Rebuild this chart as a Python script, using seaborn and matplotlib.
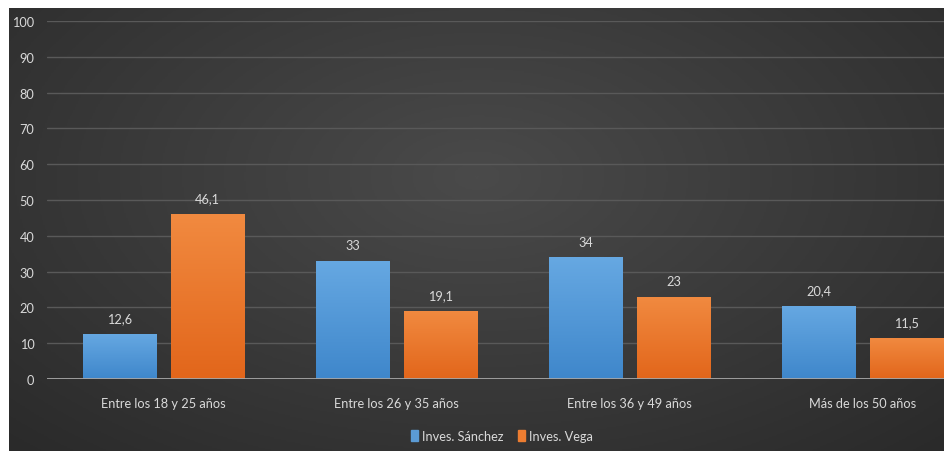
import numpy as np
import pandas as pd
import matplotlib
matplotlib.use("Agg")
import matplotlib.pyplot as plt
import matplotlib.colors as mcolors
from matplotlib.patches import Rectangle
from matplotlib import font_manager
import seaborn as sns

categories = ["Entre los 18 y 25 años", "Entre los 26 y 35 años",
              "Entre los 36 y 49 años", "Más de los 50 años"]
series_names = ["Inves. Sánchez", "Inves. Vega"]
sanchez = [12.6, 33, 34, 20.4]
vega = [46.1, 19.1, 23, 11.5]
yticks = [0, 10, 20, 30, 40, 50, 60, 70, 80, 90, 100]

df = pd.DataFrame({
    "cat": categories * 2,
    "serie": [series_names[0]] * 4 + [series_names[1]] * 4,
    "val": sanchez + vega,
})

sns.set_theme(style="white")
names = {f.name for f in font_manager.fontManager.ttflist}
fam = "Liberation Sans Narrow" if "Liberation Sans Narrow" in names else "Lato"
plt.rcParams["font.family"] = [fam, "DejaVu Sans"]
FS = 10 if fam == "Liberation Sans Narrow" else 9.2

W, H = 945, 452
fig = plt.figure(figsize=(W / 100, H / 100), dpi=100)
fig.patch.set_facecolor("white")

# background panel with radial gradient
bg = fig.add_axes([9 / W, 0, 1 - 9 / W, 1 - 9 / H])
bg.set_axis_off()
yy, xx = np.mgrid[0:1:300j, 0:1:600j]
r = np.sqrt(((xx - 0.5) / 0.75) ** 2 + ((yy - 0.62) / 0.9) ** 2)
img = np.clip(1 - r, 0, 1)
cm = mcolors.LinearSegmentedColormap.from_list("bg", ["#2a2a2a", "#4a4a4a"])
bg.imshow(img, cmap=cm, aspect="auto", extent=[0, 1, 0, 1], origin="lower")
bg.set_xlim(0, 1); bg.set_ylim(0, 1)

left = 47 / W
bottom = 1 - 380 / H
top = 1 - 22 / H
ax = fig.add_axes([left, bottom, 932 / W, top - bottom])
ax.patch.set_alpha(0)

colors = {"Inves. Sánchez": "#5b9bd5", "Inves. Vega": "#ed7d31"}
sns.barplot(data=df, x="cat", y="val", hue="serie", palette=colors,
            width=0.755, gap=0.17, ax=ax, legend=False, zorder=3,
            edgecolor="none", saturation=1)

ax.set_xlim(-0.5, 3.5)
ax.set_ylim(0, 100)
ax.set_yticks(yticks)
ax.set_yticklabels([str(t) for t in yticks])
ax.grid(axis="y", color="#595959", lw=1, zorder=0)
ax.grid(axis="x", visible=False)
for s in ax.spines.values():
    s.set_visible(False)
ax.axhline(0, color="#a6a6a6", lw=1.3, zorder=4)
ax.tick_params(axis="both", length=0, colors="#d9d9d9", labelsize=FS)
ax.tick_params(axis="y", pad=9)
ax.tick_params(axis="x", pad=13)
ax.set_xlabel(""); ax.set_ylabel("")

# gradients on bars
grads = {"Inves. Sánchez": ("#3f87cb", "#66a8e2"), "Inves. Vega": ("#e2661b", "#f18a40")}
vals_all = [sanchez, vega]
for ci, cont in enumerate(ax.containers):
    name = series_names[ci]
    gcm = mcolors.LinearSegmentedColormap.from_list(name, list(grads[name]))
    for p in cont.patches:
        x0, w, h = p.get_x(), p.get_width(), p.get_height()
        grad = np.linspace(0, 1, 100).reshape(-1, 1)
        im = ax.imshow(grad, cmap=gcm, aspect="auto", origin="lower",
                       extent=[x0, x0 + w, 0, h], zorder=3.5)
        im.set_clip_path(p)
    labels = [f"{v:g}".replace(".", ",") for v in vals_all[ci]]
    ax.bar_label(cont, labels=labels, padding=7, color="#d9d9d9", fontsize=FS)

ax.set_xlim(-0.5, 3.5)
ax.set_ylim(0, 100)

handles = [Rectangle((0, 0), 1, 1, color=colors[n]) for n in series_names]
leg = fig.legend(handles, series_names, loc="center", bbox_to_anchor=(502 / W, 15 / H),
                 ncol=2, frameon=False, fontsize=FS, labelcolor="#d9d9d9",
                 handlelength=0.5, handleheight=0.9, handletextpad=0.3, columnspacing=1.2)

fig.savefig("out.png", dpi=100)
